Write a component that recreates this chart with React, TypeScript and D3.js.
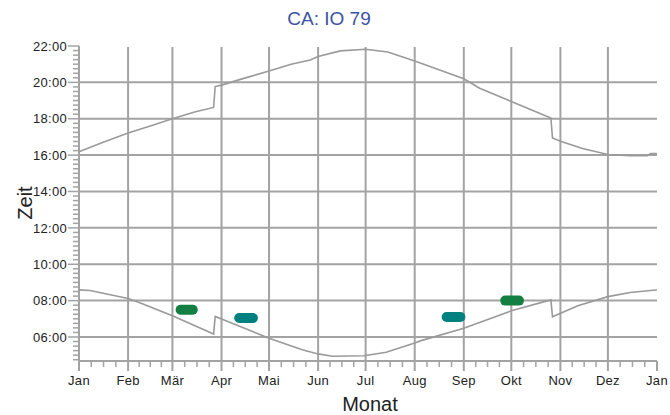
import React from "react";
import * as d3 from "d3";

const TITLE = "CA: IO 79";
const X_TITLE = "Monat";
const Y_TITLE = "Zeit";
const MONTH_LABELS = ["Jan", "Feb", "Mär", "Apr", "Mai", "Jun", "Jul", "Aug", "Sep", "Okt", "Nov", "Dez", "Jan"];
const HOUR_TICKS = [6, 8, 10, 12, 14, 16, 18, 20, 22];

// sunset (upper curve), date "MM-DD" -> decimal hours
const sunsetDates = ["01-01", "01-15", "02-01", "02-15", "03-01", "03-15", "03-27", "03-28", "04-01", "04-15", "05-01", "05-15", "05-27", "06-01", "06-15", "07-01", "07-15", "08-01", "08-15", "09-01", "09-11", "10-01", "10-15", "10-26", "10-27", "11-01", "11-15", "12-01", "12-15", "12-26", "12-28", "12-31"];
const sunsetHours = [16.18, 16.66, 17.22, 17.6, 18.0, 18.37, 18.62, 19.77, 19.85, 20.22, 20.62, 21.0, 21.23, 21.42, 21.73, 21.82, 21.67, 21.18, 20.74, 20.2, 19.68, 18.95, 18.44, 18.04, 16.94, 16.76, 16.36, 16.03, 15.97, 15.97, 16.08, 16.08];

// sunrise (lower curve)
const sunriseDates = ["01-01", "01-08", "02-01", "02-08", "03-01", "03-27", "03-28", "04-01", "05-01", "05-22", "06-01", "06-10", "06-30", "07-14", "08-01", "08-05", "09-01", "10-01", "10-26", "10-27", "11-12", "12-01", "12-15", "12-31"];
const sunriseHours = [8.59, 8.56, 8.12, 7.9, 7.17, 6.16, 7.13, 6.99, 5.93, 5.3, 5.07, 4.94, 4.97, 5.16, 5.67, 5.8, 6.48, 7.44, 8.04, 7.11, 7.72, 8.22, 8.45, 8.58];

// observation markers
const markerStart = ["03-03", "04-09", "08-18", "09-24"];
const markerEnd = ["03-17", "04-24", "09-02", "10-09"];
const markerHour = [7.5, 7.04, 7.1, 8.0];
const markerKind = ["A", "B", "B", "A"];

const YEAR = 2019;
const toDate = (md: string) => {
  const [m, d] = md.split("-").map(Number);
  return new Date(Date.UTC(YEAR, m - 1, d));
};
const pad = (n: number) => (n < 10 ? "0" + n : "" + n);

export default function App() {
  const W = 670;
  const H = 415;
  const left = 79;
  const right = 657;
  const top = 46;
  const bottom = 361;

  const x = d3
    .scaleUtc()
    .domain([new Date(Date.UTC(YEAR, 0, 1)), new Date(Date.UTC(YEAR + 1, 0, 1))])
    .range([left, right]);
  const y = d3.scaleLinear().domain([4.68, 22]).range([bottom, top]);

  const gridColor = "#a3a3a3";
  const curveColor = "#9a9a9a";
  const font = "'Liberation Sans', Arial, Helvetica, sans-serif";
  const markerColor: Record<string, string> = { A: "#137f42", B: "#00807e" };

  const monthStarts = d3.range(13).map((m) => new Date(Date.UTC(YEAR, m, 1)));
  const minorX: Date[] = [];
  for (let m = 0; m < 12; m++) {
    const a = monthStarts[m].getTime();
    const b = monthStarts[m + 1].getTime();
    for (let k = 1; k < 4; k++) minorX.push(new Date(a + ((b - a) * k) / 4));
  }
  const minorY: number[] = [];
  for (let h = 4.75; h <= 22.001; h += 0.25) {
    if (Math.abs(h - Math.round(h / 2) * 2) > 0.001) minorY.push(h);
  }

  const line = d3
    .line<[Date, number]>()
    .x((d) => x(d[0]))
    .y((d) => y(d[1]));
  const sunset: [Date, number][] = sunsetDates.map((d, i) => [toDate(d), sunsetHours[i]]);
  sunset.push([new Date(Date.UTC(YEAR + 1, 0, 1)), sunsetHours[sunsetHours.length - 1]]);
  const sunrise: [Date, number][] = sunriseDates.map((d, i) => [toDate(d), sunriseHours[i]]);
  sunrise.push([new Date(Date.UTC(YEAR + 1, 0, 1)), sunriseHours[sunriseHours.length - 1]]);

  const mh = 10;

  return (
    <svg
      width={W}
      height={H}
      style={{ position: "absolute", left: 0, top: 0, background: "#fff" }}
      fontFamily={font}
    >
      <rect width={W} height={H} fill="#fff" />
      <text x={329} y={25} textAnchor="middle" fontSize={19} fill="#3b54a4">
        {TITLE}
      </text>

      {/* horizontal grid */}
      {HOUR_TICKS.filter((h) => h < 22).map((h) => (
        <line key={"hg" + h} x1={left} x2={right} y1={y(h)} y2={y(h)} stroke={gridColor} strokeWidth={2} />
      ))}
      {/* vertical grid */}
      {monthStarts.slice(0, 12).map((d, i) => (
        <line key={"vg" + i} x1={x(d)} x2={x(d)} y1={top + 1} y2={bottom + 10} stroke={gridColor} strokeWidth={2} />
      ))}
      <line x1={right} x2={right} y1={bottom} y2={bottom + 10} stroke={gridColor} strokeWidth={2} />

      {/* axes */}
      <line x1={left} x2={left} y1={top} y2={bottom} stroke={gridColor} strokeWidth={2} />
      <line x1={left - 1} x2={right} y1={bottom} y2={bottom} stroke={gridColor} strokeWidth={2} />

      {/* y ticks */}
      {HOUR_TICKS.map((h) => (
        <g key={"yt" + h}>
          <line x1={left - 11} x2={left} y1={y(h)} y2={y(h)} stroke={gridColor} strokeWidth={1.5} />
          <text x={left - 12} y={y(h)} dy="0.36em" textAnchor="end" fontSize={13} letterSpacing={0.3} fill="#222">
            {pad(h) + ":00"}
          </text>
        </g>
      ))}
      {minorY.map((h, i) => (
        <line key={"ym" + i} x1={left - 6} x2={left} y1={y(h)} y2={y(h)} stroke={gridColor} strokeWidth={1.5} />
      ))}

      {/* x ticks */}
      {minorX.map((d, i) => (
        <line key={"xm" + i} x1={x(d)} x2={x(d)} y1={bottom} y2={bottom + 6} stroke={gridColor} strokeWidth={1.5} />
      ))}
      {monthStarts.map((d, i) => (
        <text key={"xl" + i} x={x(d)} y={385} textAnchor="middle" fontSize={13} letterSpacing={0.3} fill="#222">
          {MONTH_LABELS[i]}
        </text>
      ))}

      {/* curves */}
      <path d={line(sunset) || ""} fill="none" stroke={curveColor} strokeWidth={1.6} />
      <path d={line(sunrise) || ""} fill="none" stroke={curveColor} strokeWidth={1.6} />

      {/* markers */}
      {markerStart.map((s, i) => {
        const x0 = x(toDate(s));
        const x1 = x(toDate(markerEnd[i]));
        return (
          <rect
            key={"mk" + i}
            x={x0}
            y={y(markerHour[i]) - mh / 2}
            width={x1 - x0}
            height={mh}
            rx={mh / 2}
            fill={markerColor[markerKind[i]]}
          />
        );
      })}

      {/* axis titles */}
      <text x={370} y={411} textAnchor="middle" fontSize={20} fill="#222">
        {X_TITLE}
      </text>
      <text transform={`translate(31.5,203) rotate(-90)`} textAnchor="middle" fontSize={20} fill="#222">
        {Y_TITLE}
      </text>
    </svg>
  );
}
